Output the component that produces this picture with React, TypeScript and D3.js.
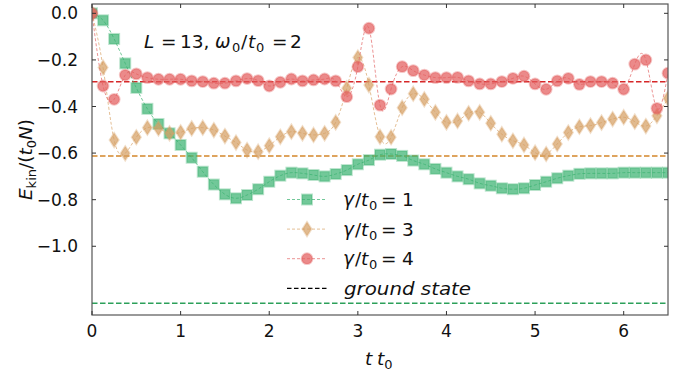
import React from "react";
import * as d3 from "d3";

// time step between samples (t t0)
const DT = 0.125;

// kinetic energy per site for the three couplings
const gamma1 = [0, -0.03, -0.11, -0.215, -0.32, -0.41, -0.475, -0.515, -0.565, -0.62, -0.68, -0.735, -0.777, -0.794, -0.78, -0.755, -0.723, -0.697, -0.684, -0.687, -0.694, -0.7, -0.69, -0.673, -0.648, -0.63, -0.607, -0.604, -0.612, -0.632, -0.648, -0.668, -0.684, -0.7, -0.712, -0.73, -0.74, -0.751, -0.755, -0.751, -0.737, -0.723, -0.708, -0.697, -0.689, -0.687, -0.687, -0.687, -0.684, -0.684, -0.684, -0.684, -0.684];
const gamma3 = [0, -0.233, -0.544, -0.601, -0.532, -0.491, -0.494, -0.515, -0.511, -0.494, -0.491, -0.501, -0.527, -0.555, -0.587, -0.594, -0.568, -0.53, -0.508, -0.515, -0.522, -0.515, -0.468, -0.322, -0.19, -0.308, -0.53, -0.532, -0.405, -0.345, -0.369, -0.425, -0.468, -0.462, -0.429, -0.425, -0.472, -0.519, -0.547, -0.565, -0.598, -0.604, -0.561, -0.512, -0.487, -0.482, -0.469, -0.454, -0.446, -0.465, -0.484, -0.44, -0.365];
const gamma4 = [0, -0.312, -0.369, -0.265, -0.26, -0.276, -0.283, -0.283, -0.283, -0.29, -0.293, -0.3, -0.3, -0.29, -0.28, -0.289, -0.312, -0.296, -0.282, -0.29, -0.286, -0.282, -0.29, -0.358, -0.229, -0.064, -0.394, -0.325, -0.229, -0.246, -0.265, -0.276, -0.276, -0.275, -0.29, -0.303, -0.303, -0.293, -0.279, -0.27, -0.303, -0.326, -0.29, -0.279, -0.305, -0.293, -0.293, -0.3, -0.326, -0.218, -0.2, -0.408, -0.257];

// ground-state energies
const groundStates = [-1.245, -0.612, -0.2935];
const groundColors = ["#2ca05a", "#d4862a", "#d62728"];

const xTicks = [0, 1, 2, 3, 4, 5, 6];
const yTicks = [0, -0.2, -0.4, -0.6, -0.8, -1.0];
const gammaLabels = ["1", "3", "4"];

const W = 691;
const H = 378;
const left = 92;
const right = 668;
const top = 4;
const bottom = 315;

const FONT = "'DejaVu Sans', sans-serif";

type Series = { values: number[]; color: string; line: string; shape: "square" | "diamond" | "circle" };

const series: Series[] = [
  { values: gamma1, color: "#3cb371", line: "#3cb371", shape: "square" },
  { values: gamma3, color: "#d6a064", line: "#d9a66c", shape: "diamond" },
  { values: gamma4, color: "#e35d5d", line: "#e36a6a", shape: "circle" },
];

function Marker({ shape, x, y, color }: { shape: string; x: number; y: number; color: string }) {
  const common = { fill: color, fillOpacity: 0.72, stroke: color, strokeOpacity: 0.35, strokeWidth: 2 };
  if (shape === "square") {
    return <rect x={x - 5} y={y - 5} width={10} height={10} {...common} />;
  }
  if (shape === "diamond") {
    return <path d={`M${x},${y - 7} L${x + 4.5},${y} L${x},${y + 7} L${x - 4.5},${y} Z`} {...common} />;
  }
  return <circle cx={x} cy={y} r={5.4} {...common} />;
}

export default function App() {
  const x = d3.scaleLinear().domain([0, 6.5]).range([left, right]);
  const y = d3.scaleLinear().domain([-1.295, 0.04]).range([bottom, top]);

  const lineGen = d3
    .line<number>()
    .x((_, i) => x(i * DT))
    .y((d) => y(d))
    .curve(d3.curveNatural);

  const fs = 17; // tick labels
  const ts = 18.5; // labels, legend, annotation
  const sub = 13;

  return (
    <svg
      width={W}
      height={H}
      style={{ position: "absolute", left: 0, top: 0, background: "#fff" }}
      fontFamily={FONT}
    >
      <defs>
        <clipPath id="plotArea">
          <rect x={left} y={top} width={right - left} height={bottom - top} />
        </clipPath>
      </defs>

      {/* ground-state reference lines */}
      {groundStates.map((g, i) => (
        <line
          key={`g${i}`}
          x1={left}
          x2={right}
          y1={y(g)}
          y2={y(g)}
          stroke={groundColors[i]}
          strokeWidth={1.5}
          strokeDasharray="5.5,2.5"
        />
      ))}

      <g clipPath="url(#plotArea)">
        {series.map((s, si) => (
          <g key={`s${si}`}>
            <path
              d={lineGen(s.values) || ""}
              fill="none"
              stroke={s.line}
              strokeWidth={0.9}
              strokeOpacity={0.8}
              strokeDasharray="3,2"
            />
            {s.values.map((v, i) => (
              <Marker key={i} shape={s.shape} x={x(i * DT)} y={y(v)} color={s.color} />
            ))}
          </g>
        ))}
      </g>

      {/* frame */}
      <rect x={left} y={top} width={right - left} height={bottom - top} fill="none" stroke="#555" strokeWidth={1.2} />

      {/* x ticks (inward, top and bottom) */}
      {xTicks.map((t) => (
        <g key={`xt${t}`}>
          <line x1={x(t)} x2={x(t)} y1={bottom} y2={bottom - 4} stroke="#333" strokeWidth={1} />
          <line x1={x(t)} x2={x(t)} y1={top} y2={top + 4} stroke="#333" strokeWidth={1} />
          <text x={x(t)} y={337} textAnchor="middle" fontSize={fs} fill="#111">
            {d3.format("d")(t)}
          </text>
        </g>
      ))}

      {/* y ticks (inward, left and right) */}
      {yTicks.map((t) => (
        <g key={`yt${t}`}>
          <line x1={left} x2={left + 4} y1={y(t)} y2={y(t)} stroke="#333" strokeWidth={1} />
          <line x1={right} x2={right - 4} y1={y(t)} y2={y(t)} stroke="#333" strokeWidth={1} />
          <text x={78} y={y(t) + 6} textAnchor="end" fontSize={fs} fill="#111">
            {d3.format(".1f")(t).replace("-", "\u2212")}
          </text>
        </g>
      ))}

      {/* axis labels */}
      <text y={365} fontSize={ts} fill="#111">
        <tspan x={365} fontStyle="italic">t</tspan>
        <tspan x={377} fontStyle="italic">t</tspan>
        <tspan fontSize={sub} dy={4}>0</tspan>
      </text>
      <text
        transform={`translate(32,${(top + bottom) / 2}) rotate(-90)`}
        textAnchor="middle"
        fontSize={ts}
        fill="#111"
      >
        <tspan fontStyle="italic">E</tspan>
        <tspan fontSize={sub} dy={4}>kin</tspan>
        <tspan dy={-4}>/(</tspan>
        <tspan fontStyle="italic">t</tspan>
        <tspan fontSize={sub} dy={4}>0</tspan>
        <tspan fontStyle="italic" dy={-4}>N</tspan>
        <tspan>)</tspan>
      </text>

      {/* parameters */}
      <text y={48} fontSize={ts} fill="#111">
        <tspan x={144} fontStyle="italic">L</tspan>
        <tspan x={161}>=</tspan>
        <tspan x={180}>13,</tspan>
        <tspan x={215} fontStyle="italic">ω</tspan>
        <tspan x={232} fontSize={sub} dy={4}>0</tspan>
        <tspan x={241} dy={-4}>/</tspan>
        <tspan x={248} fontStyle="italic">t</tspan>
        <tspan x={256} fontSize={sub} dy={4}>0</tspan>
        <tspan x={272} dy={-4}>=</tspan>
        <tspan x={290}>2</tspan>
      </text>

      {/* legend */}
      {series.map((s, i) => {
        const ly = 199.5 + i * 29.6;
        return (
          <g key={`lg${i}`}>
            <line x1={287} x2={327} y1={ly} y2={ly} stroke={s.line} strokeWidth={0.9} strokeOpacity={0.8} strokeDasharray="3,2" />
            <Marker shape={s.shape} x={307} y={ly} color={s.color} />
            <text y={ly + 6.5} fontSize={ts} fill="#111">
              <tspan x={343} fontStyle="italic">γ</tspan>
              <tspan x={355}>/</tspan>
              <tspan x={361} fontStyle="italic">t</tspan>
              <tspan x={369} fontSize={sub} dy={4}>0</tspan>
              <tspan x={381} dy={-4}>=</tspan>
              <tspan x={402}>{gammaLabels[i]}</tspan>
            </text>
          </g>
        );
      })}
      <line x1={287} x2={327} y1={288.3} y2={288.3} stroke="#000" strokeWidth={1.3} strokeDasharray="4.5,2.5" />
      <text x={344} y={295} fontSize={ts} fontStyle="italic" fill="#111" textLength={127} lengthAdjust="spacingAndGlyphs">
        ground state
      </text>
    </svg>
  );
}
